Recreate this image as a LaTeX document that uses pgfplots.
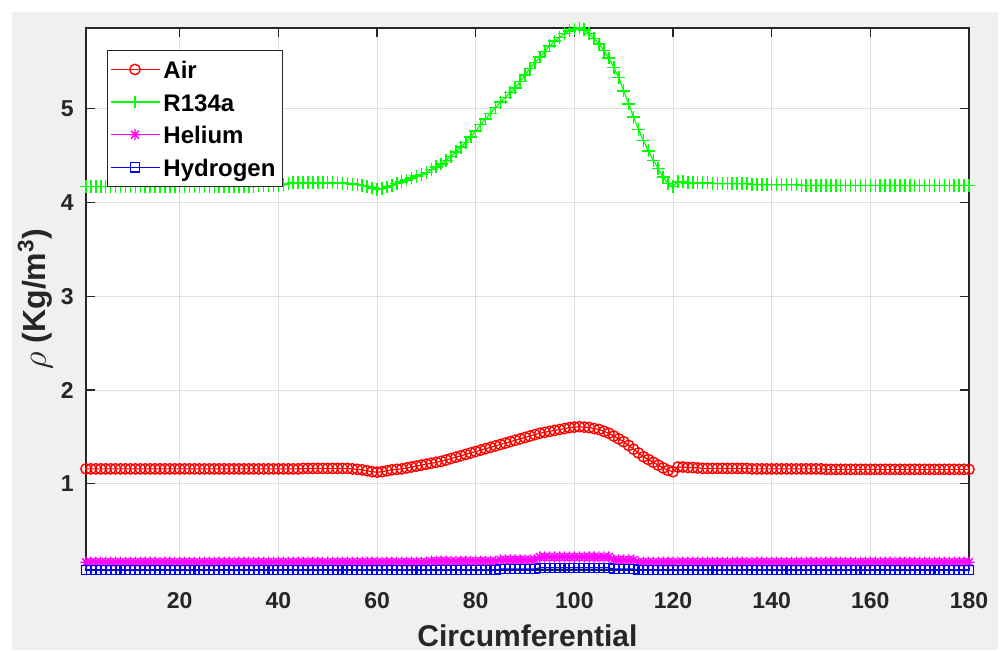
\documentclass[border=0pt]{standalone}
\usepackage{pgfplots}
\usepackage{pgfplotstable}
\pgfplotsset{compat=1.18}
\usepackage{fontspec}
\setmainfont{Liberation Sans}
\definecolor{figgray}{HTML}{F0F0F0}
\definecolor{gridgray}{HTML}{DFDFDF}
\definecolor{axisgray}{HTML}{262626}
\definecolor{mred}{rgb}{1,0,0}
\definecolor{mgreen}{rgb}{0,1,0}
\definecolor{mmag}{rgb}{1,0,1}
\definecolor{mblue}{rgb}{0,0,1}
\pgfdeclareplotmark{mstar}{%
  \pgfpathmoveto{\pgfqpoint{-\pgfplotmarksize}{0pt}}\pgfpathlineto{\pgfqpoint{\pgfplotmarksize}{0pt}}%
  \pgfpathmoveto{\pgfqpoint{0pt}{-\pgfplotmarksize}}\pgfpathlineto{\pgfqpoint{0pt}{\pgfplotmarksize}}%
  \pgfpathmoveto{\pgfqpoint{-.707\pgfplotmarksize}{-.707\pgfplotmarksize}}\pgfpathlineto{\pgfqpoint{.707\pgfplotmarksize}{.707\pgfplotmarksize}}%
  \pgfpathmoveto{\pgfqpoint{-.707\pgfplotmarksize}{.707\pgfplotmarksize}}\pgfpathlineto{\pgfqpoint{.707\pgfplotmarksize}{-.707\pgfplotmarksize}}%
  \pgfusepathqstroke}
\pgfplotsset{mylegend/.style={legend image code/.code={%
  \fill[fill=#1, draw=none] (0pt,-0.35pt) rectangle (24.5pt,0.35pt);
  \draw[draw=#1] plot[only marks, mark repeat=2, mark phase=2] coordinates {(0pt,0pt) (12.25pt,0pt) (24.5pt,0pt)};}}}
\pgfplotstableread{
x air r134a he h2
1 1.16 4.17 0.165 0.082
2 1.16 4.17 0.165 0.082
3 1.16 4.17 0.165 0.082
4 1.16 4.17 0.165 0.082
5 1.16 4.17 0.165 0.082
6 1.16 4.17 0.165 0.082
7 1.16 4.17 0.165 0.082
8 1.16 4.17 0.165 0.082
9 1.16 4.17 0.165 0.082
10 1.16 4.17 0.165 0.082
11 1.16 4.17 0.165 0.082
12 1.16 4.17 0.165 0.082
13 1.16 4.17 0.165 0.082
14 1.16 4.17 0.165 0.082
15 1.16 4.17 0.165 0.082
16 1.16 4.17 0.165 0.082
17 1.16 4.17 0.165 0.082
18 1.16 4.17 0.165 0.082
19 1.16 4.17 0.165 0.082
20 1.16 4.17 0.165 0.082
21 1.16 4.17 0.165 0.082
22 1.16 4.17 0.165 0.082
23 1.16 4.17 0.165 0.082
24 1.16 4.17 0.165 0.082
25 1.16 4.17 0.165 0.082
26 1.16 4.17 0.165 0.082
27 1.16 4.17 0.165 0.082
28 1.16 4.17 0.165 0.082
29 1.16 4.17 0.165 0.082
30 1.16 4.17 0.165 0.082
31 1.16 4.17 0.165 0.082
32 1.16 4.17 0.165 0.082
33 1.16 4.17 0.165 0.082
34 1.16 4.17 0.165 0.082
35 1.16 4.17 0.165 0.082
36 1.16 4.18 0.165 0.082
37 1.16 4.18 0.165 0.082
38 1.16 4.18 0.165 0.082
39 1.16 4.18 0.165 0.082
40 1.16 4.18 0.165 0.082
41 1.16 4.19 0.165 0.082
42 1.16 4.20 0.165 0.082
43 1.16 4.21 0.165 0.082
44 1.16 4.21 0.165 0.082
45 1.165 4.21 0.165 0.082
46 1.165 4.21 0.165 0.082
47 1.165 4.21 0.165 0.082
48 1.165 4.21 0.165 0.082
49 1.165 4.21 0.165 0.082
50 1.165 4.21 0.165 0.082
51 1.165 4.21 0.165 0.082
52 1.165 4.21 0.165 0.082
53 1.165 4.205 0.165 0.082
54 1.165 4.20 0.165 0.082
55 1.16 4.195 0.165 0.082
56 1.155 4.19 0.165 0.082
57 1.15 4.18 0.165 0.082
58 1.14 4.17 0.165 0.082
59 1.13 4.155 0.165 0.082
60 1.125 4.14 0.165 0.082
61 1.13 4.15 0.165 0.082
62 1.14 4.165 0.165 0.082
63 1.15 4.18 0.165 0.082
64 1.155 4.20 0.165 0.082
65 1.16 4.22 0.165 0.082
66 1.17 4.24 0.165 0.082
67 1.18 4.26 0.165 0.082
68 1.19 4.28 0.165 0.082
69 1.20 4.30 0.165 0.082
70 1.21 4.32 0.165 0.082
71 1.22 4.35 0.175 0.082
72 1.23 4.38 0.175 0.082
73 1.24 4.41 0.175 0.082
74 1.255 4.45 0.175 0.082
75 1.27 4.49 0.175 0.082
76 1.285 4.54 0.175 0.082
77 1.30 4.59 0.175 0.082
78 1.315 4.64 0.175 0.082
79 1.33 4.70 0.175 0.082
80 1.345 4.76 0.175 0.082
81 1.36 4.83 0.175 0.082
82 1.375 4.89 0.175 0.082
83 1.39 4.95 0.175 0.082
84 1.405 5.01 0.175 0.082
85 1.42 5.07 0.19 0.092
86 1.435 5.12 0.19 0.092
87 1.45 5.17 0.19 0.092
88 1.465 5.22 0.19 0.092
89 1.48 5.29 0.19 0.092
90 1.495 5.36 0.19 0.092
91 1.51 5.43 0.19 0.092
92 1.525 5.49 0.19 0.092
93 1.54 5.55 0.22 0.105
94 1.55 5.61 0.22 0.105
95 1.56 5.67 0.22 0.105
96 1.57 5.72 0.22 0.105
97 1.58 5.76 0.22 0.105
98 1.59 5.80 0.22 0.105
99 1.60 5.83 0.22 0.105
100 1.605 5.85 0.22 0.105
101 1.61 5.86 0.22 0.105
102 1.605 5.84 0.22 0.105
103 1.60 5.80 0.22 0.105
104 1.59 5.75 0.22 0.105
105 1.58 5.69 0.22 0.105
106 1.56 5.62 0.22 0.105
107 1.54 5.54 0.22 0.105
108 1.51 5.44 0.19 0.092
109 1.48 5.33 0.19 0.092
110 1.45 5.19 0.19 0.092
111 1.41 5.05 0.19 0.092
112 1.37 4.91 0.19 0.092
113 1.33 4.78 0.165 0.082
114 1.29 4.66 0.165 0.082
115 1.26 4.55 0.165 0.082
116 1.23 4.45 0.165 0.082
117 1.20 4.36 0.165 0.082
118 1.17 4.27 0.165 0.082
119 1.145 4.20 0.165 0.082
120 1.13 4.17 0.165 0.082
121 1.18 4.22 0.165 0.082
122 1.18 4.22 0.165 0.082
123 1.175 4.21 0.165 0.082
124 1.175 4.21 0.165 0.082
125 1.17 4.21 0.165 0.082
126 1.165 4.21 0.165 0.082
127 1.165 4.21 0.165 0.082
128 1.165 4.20 0.165 0.082
129 1.165 4.20 0.165 0.082
130 1.165 4.20 0.165 0.082
131 1.165 4.20 0.165 0.082
132 1.165 4.20 0.165 0.082
133 1.165 4.20 0.165 0.082
134 1.165 4.20 0.165 0.082
135 1.165 4.20 0.165 0.082
136 1.16 4.19 0.165 0.082
137 1.16 4.19 0.165 0.082
138 1.16 4.19 0.165 0.082
139 1.16 4.19 0.165 0.082
140 1.16 4.19 0.165 0.082
141 1.16 4.19 0.165 0.082
142 1.16 4.19 0.165 0.082
143 1.16 4.19 0.165 0.082
144 1.16 4.19 0.165 0.082
145 1.16 4.19 0.165 0.082
146 1.16 4.18 0.165 0.082
147 1.16 4.18 0.165 0.082
148 1.16 4.18 0.165 0.082
149 1.16 4.18 0.165 0.082
150 1.16 4.18 0.165 0.082
151 1.155 4.18 0.165 0.082
152 1.155 4.18 0.165 0.082
153 1.155 4.18 0.165 0.082
154 1.155 4.18 0.165 0.082
155 1.155 4.18 0.165 0.082
156 1.155 4.18 0.165 0.082
157 1.155 4.18 0.165 0.082
158 1.155 4.18 0.165 0.082
159 1.155 4.18 0.165 0.082
160 1.155 4.18 0.165 0.082
161 1.155 4.18 0.165 0.082
162 1.155 4.18 0.165 0.082
163 1.155 4.18 0.165 0.082
164 1.155 4.18 0.165 0.082
165 1.155 4.18 0.165 0.082
166 1.155 4.18 0.165 0.082
167 1.155 4.18 0.165 0.082
168 1.155 4.18 0.165 0.082
169 1.155 4.18 0.165 0.082
170 1.155 4.18 0.165 0.082
171 1.155 4.18 0.165 0.082
172 1.155 4.18 0.165 0.082
173 1.155 4.18 0.165 0.082
174 1.155 4.18 0.165 0.082
175 1.155 4.18 0.165 0.082
176 1.155 4.18 0.165 0.082
177 1.155 4.18 0.165 0.082
178 1.155 4.18 0.165 0.082
179 1.155 4.18 0.165 0.082
180 1.155 4.18 0.165 0.082
}\datatable
\begin{document}
\begin{tikzpicture}
\fill[white] (0,0) rectangle (501.5pt,325pt);
\fill[figgray] (6pt,0) rectangle (499pt,319pt);
\begin{axis}[
  at={(43pt,40pt)}, anchor=south west,
  scale only axis, width=441.5pt, height=271pt,
  xmin=1, xmax=180, ymin=0.082, ymax=5.86,
  xtick={20,40,...,180}, ytick={1,2,3,4,5},
  /pgf/number format/assume math mode=true,
  axis background/.style={fill=white},
  grid=major, major grid style={color=gridgray, line width=0.5pt},
  axis line style={color=axisgray, line width=0.6pt},
  tick style={color=axisgray, line width=0.6pt},
  tick align=inside, major tick length=4.5pt,
  xtick pos=both, ytick pos=both,
  clip=false,
  tick label style={font=\bfseries\fontsize{11.5}{13}\selectfont, text=axisgray},
  xticklabel style={anchor=base, inner sep=0pt, yshift=-19pt},
  yticklabel style={anchor=east, inner sep=0pt, xshift=-6pt},
  xlabel={Circumferential},
  xlabel style={at={(axis description cs:0.5,0)}, anchor=base, yshift=-38pt, inner sep=0pt, font=\bfseries\fontsize{15}{17}\selectfont, text=axisgray},
  ylabel={$\rho$ (Kg/m\textsuperscript{3})},
  ylabel style={at={(axis description cs:0,0.5)}, anchor=south, yshift=16.5pt, inner sep=0pt, font=\bfseries\fontsize{16}{18}\selectfont, text=axisgray},
  legend cell align=left,
  legend style={at={(rel axis cs:0,1)}, anchor=north west, xshift=10.5pt, yshift=-11pt,
    draw=axisgray, fill=white, line width=0.5pt, inner xsep=1.5pt, inner ysep=1.5pt, row sep=0.3pt,
    font=\bfseries\fontsize{12}{14}\selectfont,
    nodes={inner sep=2pt, text height=10.5pt, text depth=1.5pt}},
]
\addplot[color=mred, draw=mred, line width=0.6pt, mark=o, mark size=2.6pt, mark options={line width=0.7pt, draw=mred}, mylegend=mred] table[x=x, y=air] {\datatable};
\addlegendentry{Air}
\addplot[color=mgreen, draw=mgreen, line width=0.6pt, mark=+, mark size=3.2pt, mark options={line width=0.75pt, draw=mgreen}, mylegend=mgreen] table[x=x, y=r134a] {\datatable};
\addlegendentry{R134a}
\addplot[color=mmag, draw=mmag, line width=0.6pt, mark=mstar, mark size=2.8pt, mark options={line width=0.7pt, draw=mmag}, mylegend=mmag] table[x=x, y=he] {\datatable};
\addlegendentry{Helium}
\addplot[color=mblue, draw=mblue, line width=0.6pt, mark=square, mark size=2.3pt, mark options={line width=0.7pt, draw=mblue}, mylegend=mblue] table[x=x, y=h2] {\datatable};
\addlegendentry{Hydrogen}
\end{axis}
\pgfresetboundingbox
\path[use as bounding box] (0,0) rectangle (501.5pt,325pt);
\end{tikzpicture}
\end{document}
